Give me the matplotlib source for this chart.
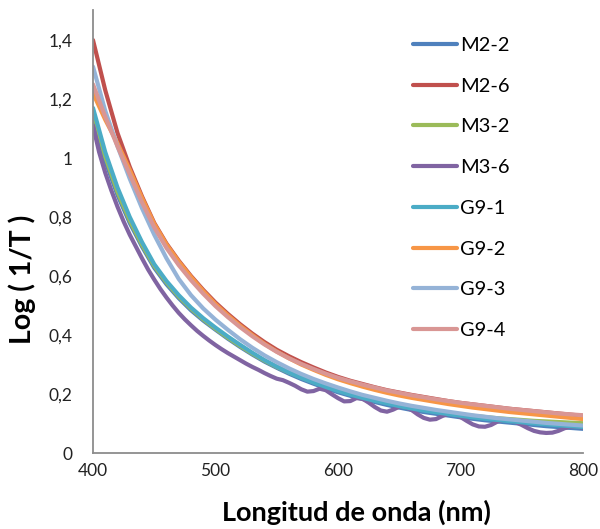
import numpy as np
from matplotlib import pyplot as plt

# wavelength grids (nm)
wl = list(range(400, 801, 10))
wl_fine = list(range(400, 801, 5))

# Log(1/T), 10 nm steps
m2_2 = [1.14, 0.99, 0.875, 0.78, 0.70, 0.628, 0.572, 0.525, 0.484, 0.449, 0.418,
        0.388, 0.360, 0.334, 0.310, 0.289, 0.269, 0.251, 0.235, 0.220, 0.206,
        0.194, 0.183, 0.173, 0.163, 0.154, 0.146, 0.139, 0.133, 0.127, 0.121,
        0.116, 0.111, 0.107, 0.103, 0.099, 0.095, 0.091, 0.088, 0.085, 0.082]
m2_6 = [1.40, 1.23, 1.085, 0.97, 0.87, 0.78, 0.71, 0.652, 0.600, 0.553, 0.510,
        0.472, 0.437, 0.405, 0.376, 0.350, 0.328, 0.308, 0.290, 0.273, 0.258,
        0.245, 0.234, 0.223, 0.213, 0.205, 0.197, 0.190, 0.183, 0.176, 0.170,
        0.165, 0.160, 0.155, 0.150, 0.146, 0.142, 0.138, 0.134, 0.130, 0.126]
m3_2 = [1.16, 1.005, 0.885, 0.788, 0.706, 0.634, 0.578, 0.530, 0.489, 0.453, 0.421,
        0.391, 0.363, 0.337, 0.313, 0.292, 0.273, 0.256, 0.240, 0.226, 0.213,
        0.201, 0.190, 0.180, 0.171, 0.162, 0.155, 0.148, 0.142, 0.136, 0.131,
        0.126, 0.122, 0.118, 0.115, 0.112, 0.109, 0.107, 0.105, 0.103, 0.101]
g9_1 = [1.17, 1.02, 0.90, 0.80, 0.715, 0.64, 0.583, 0.535, 0.493, 0.457, 0.425,
        0.395, 0.367, 0.340, 0.315, 0.293, 0.273, 0.255, 0.239, 0.224, 0.210,
        0.198, 0.187, 0.177, 0.168, 0.159, 0.151, 0.144, 0.138, 0.132, 0.126,
        0.121, 0.116, 0.112, 0.108, 0.104, 0.100, 0.097, 0.094, 0.091, 0.088]
g9_2 = [1.22, 1.13, 1.05, 0.96, 0.865, 0.777, 0.707, 0.649, 0.597, 0.549, 0.505,
        0.467, 0.432, 0.400, 0.370, 0.344, 0.321, 0.300, 0.282, 0.265, 0.250,
        0.237, 0.225, 0.214, 0.204, 0.195, 0.187, 0.180, 0.173, 0.166, 0.160,
        0.154, 0.149, 0.144, 0.139, 0.135, 0.131, 0.127, 0.123, 0.119, 0.115]
g9_3 = [1.31, 1.16, 1.04, 0.93, 0.83, 0.74, 0.66, 0.590, 0.535, 0.490, 0.452,
        0.418, 0.386, 0.357, 0.331, 0.308, 0.287, 0.268, 0.251, 0.236, 0.222,
        0.209, 0.197, 0.187, 0.177, 0.168, 0.160, 0.153, 0.146, 0.140, 0.134,
        0.128, 0.123, 0.118, 0.114, 0.110, 0.106, 0.102, 0.099, 0.096, 0.093]
g9_4 = [1.25, 1.14, 1.04, 0.945, 0.85, 0.765, 0.695, 0.637, 0.586, 0.540, 0.498,
        0.461, 0.427, 0.396, 0.368, 0.343, 0.321, 0.302, 0.285, 0.269, 0.255,
        0.243, 0.232, 0.222, 0.212, 0.204, 0.196, 0.189, 0.182, 0.176, 0.170,
        0.165, 0.160, 0.155, 0.150, 0.146, 0.142, 0.138, 0.134, 0.131, 0.128]

# M3-6 shows interference ripples, 5 nm steps
m3_6 = [1.11, 1.02, 0.95, 0.89, 0.835, 0.785, 0.74, 0.70, 0.66, 0.622, 0.588,
        0.556, 0.527, 0.500, 0.475, 0.453, 0.433, 0.414, 0.397, 0.381, 0.366,
        0.352, 0.339, 0.327, 0.315, 0.303, 0.292, 0.282, 0.271, 0.261, 0.252,
        0.247, 0.238, 0.228, 0.216, 0.208, 0.210, 0.218, 0.213, 0.199, 0.186,
        0.175, 0.176, 0.186, 0.184, 0.171, 0.156, 0.144, 0.140, 0.147, 0.157,
        0.156, 0.146, 0.131, 0.119, 0.113, 0.115, 0.125, 0.133, 0.131, 0.122,
        0.109, 0.097, 0.090, 0.089, 0.095, 0.106, 0.112, 0.111, 0.105, 0.095,
        0.084, 0.075, 0.070, 0.068, 0.069, 0.075, 0.084, 0.089, 0.089, 0.086]

series = [("M2-2", wl, m2_2, "#4F81BD"),
          ("M2-6", wl, m2_6, "#C0504D"),
          ("M3-2", wl, m3_2, "#9BBB59"),
          ("M3-6", wl_fine, m3_6, "#8064A2"),
          ("G9-1", wl, g9_1, "#4BACC6"),
          ("G9-2", wl, g9_2, "#F79646"),
          ("G9-3", wl, g9_3, "#95B3D7"),
          ("G9-4", wl, g9_4, "#D99694")]

yticks = [0, 0.2, 0.4, 0.6, 0.8, 1.0, 1.2, 1.4]
ytick_labels = ["0", "0,2", "0,4", "0,6", "0,8", "1", "1,2", "1,4"]
xticks = [400, 500, 600, 700, 800]

plt.rcParams['font.family'] = ['Lato', 'DejaVu Sans']

fig = plt.figure(figsize=(6.0, 5.29), dpi=100)
ax = fig.add_axes([93 / 600, 1 - 453 / 529, 490 / 600, 443 / 529])

for name, x, y, c in series:
    ax.plot(x, y, color=c, lw=3.0, label=name, solid_capstyle='round')

ax.set_xlim(400, 800)
ax.set_ylim(0, 1.502)
ax.set_xticks(xticks)
ax.set_xticklabels([str(v) for v in xticks])
ax.set_yticks(yticks)
ax.set_yticklabels(ytick_labels)
ax.tick_params(length=0, labelsize=12.5, colors='#222222')
ax.tick_params(axis='x', pad=7)
ax.tick_params(axis='y', pad=15)
for side in ['top', 'right']:
    ax.spines[side].set_visible(False)
for side in ['left', 'bottom']:
    ax.spines[side].set_color('#8c8c8c')
    ax.spines[side].set_linewidth(1.3)

fig.text(356 / 600, 1 - 512 / 529, "Longitud de onda (nm)", fontsize=19.5,
         fontweight='bold', ha='center', va='center')
fig.text(22 / 600, 1 - 279 / 529, "Log ( 1/T )", fontsize=20.5,
         fontweight='bold', ha='center', va='center', rotation=90)

ax.legend(loc='upper left', bbox_to_anchor=(0.653, 0.939), frameon=False,
          fontsize=14.4, handlelength=2.2, handletextpad=0.15,
          labelspacing=1.185, borderpad=0, borderaxespad=0)

fig.savefig("out.png", dpi=100)
